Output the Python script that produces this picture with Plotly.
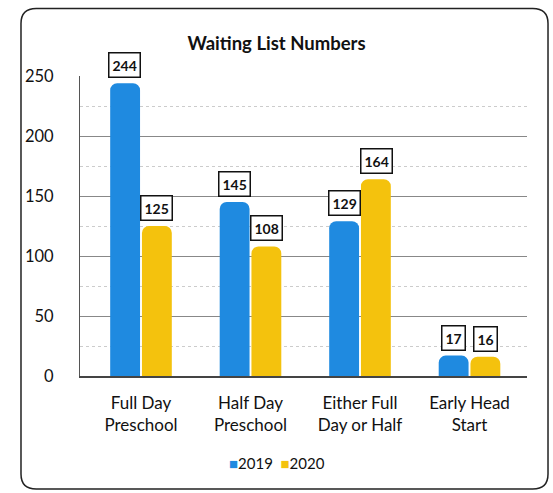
import plotly.graph_objects as go

# Chart data
categories = ["Full Day<br>Preschool", "Half Day<br>Preschool", "Either Full<br>Day or Half", "Early Head<br>Start"]
values_2019 = [244, 145, 129, 17]
values_2020 = [125, 108, 164, 16]
y_ticks = [0, 50, 100, 150, 200, 250]

COLOR_2019 = "#1f8ae0"
COLOR_2020 = "#f4c20d"
FONT = "Lato"

fig = go.Figure()
fig.add_trace(go.Bar(x=categories, y=values_2019, name="2019",
                     marker=dict(color=COLOR_2019, cornerradius=7, line=dict(width=0))))
fig.add_trace(go.Bar(x=categories, y=values_2020, name="2020",
                     marker=dict(color=COLOR_2020, cornerradius=7, line=dict(width=0))))

# boxed value labels above each bar
for cat, v19, v20 in zip(categories, values_2019, values_2020):
    for val, shift in ((v19, -16), (v20, 16)):
        fig.add_annotation(x=cat, y=val, text="<b>%d</b>" % val, showarrow=False,
                           xshift=shift, yshift=5, yanchor="bottom",
                           font=dict(family=FONT, size=14, color="#111"),
                           bgcolor="white", bordercolor="#111", borderwidth=1.5, borderpad=3)

# compact legend like the Excel one: small square right before each label
legend_text = (f"<span style='color:{COLOR_2019}'>■</span>2019  "
               f"<span style='color:{COLOR_2020}'>■</span>2020")
fig.add_annotation(text=legend_text, xref="paper", yref="paper", x=0.44, y=-0.29,
                   xanchor="center", yanchor="middle", showarrow=False,
                   font=dict(family=FONT, size=15, color="#111"))

# rounded chart frame
x0, x1, y0, y1 = -0.132, 1.047, -0.377, 1.225
rx, ry = 0.034, 0.05
path = (f"M {x0+rx},{y1} L {x1-rx},{y1} Q {x1},{y1} {x1},{y1-ry} "
        f"L {x1},{y0+ry} Q {x1},{y0} {x1-rx},{y0} L {x0+rx},{y0} "
        f"Q {x0},{y0} {x0},{y0+ry} L {x0},{y1-ry} Q {x0},{y1} {x0+rx},{y1} Z")
fig.add_shape(type="path", path=path, xref="paper", yref="paper",
              line=dict(color="#222", width=1.5), layer="below")

fig.update_layout(
    width=553, height=493,
    paper_bgcolor="white", plot_bgcolor="white",
    font=dict(family=FONT, color="#111", size=16),
    title=dict(text="<b>Waiting List Numbers</b>", x=0.5, xanchor="center",
               y=0.911, yanchor="middle", font=dict(size=18.5, family=FONT)),
    margin=dict(l=80, r=26, t=76, b=117),
    barmode="group", bargap=0.42, bargroupgap=0.06,
    showlegend=False,
)
fig.update_xaxes(showgrid=False, showline=True, linecolor="#444", linewidth=1.5,
                 range=[-0.557, 3.525], tickfont=dict(size=17), ticks="",
                 automargin=False, ticklabelstandoff=11)
fig.update_yaxes(range=[0, 250], tickvals=y_ticks, showgrid=True, gridcolor="#888",
                 gridwidth=1, showline=True, linecolor="#555", linewidth=1,
                 tickfont=dict(size=16.5), ticks="", zeroline=False, automargin=False,
                 ticklabelstandoff=22,
                 minor=dict(dtick=25, showgrid=True, gridcolor="#ccc", griddash="dot"))

# drop the default page margin so the figure sits at the window origin
fig.write_html("out.html", config={"displayModeBar": False},
               post_script="document.body.style.margin='0';")
